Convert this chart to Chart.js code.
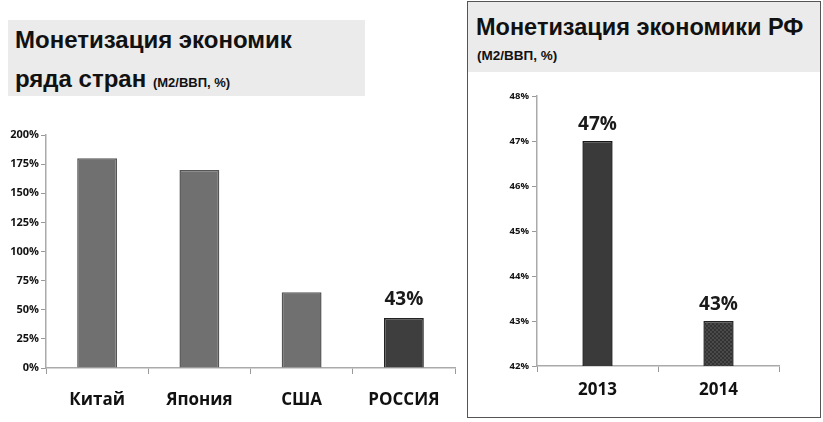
<!DOCTYPE html>
<html>
<head>
<meta charset="utf-8">
<script src="https://cdn.jsdelivr.net/npm/chart.js@4"></script>
<style>
  body { margin: 0; width: 823px; height: 422px; background: #fff; position: relative; overflow: hidden; font-family: "Liberation Sans", Arial, sans-serif; }
  .band { position: absolute; background: #ebebeb; }
  .t1 { position: absolute; font-weight: bold; color: #111; white-space: nowrap; }
  .box { position: absolute; left: 467px; top: 1px; width: 354px; height: 417px; border: 1px solid #555; box-sizing: border-box; }
  canvas { position: absolute; }
</style>
</head>
<body>
<div class="band" style="left:8px;top:20px;width:357px;height:76px;"></div>
<div class="t1" style="left:15px;top:26px;font-size:24px;">Монетизация экономик</div>
<div class="t1" style="left:15px;top:65px;font-size:24px;">ряда стран <span style="font-size:13px;">(M2/ВВП, %)</span></div>

<div class="box"></div>
<div class="band" style="left:468px;top:2px;width:352px;height:70px;"></div>
<div class="t1" style="left:476px;top:14px;font-size:23.5px;">Монетизация экономики РФ</div>
<div class="t1" style="left:477px;top:48px;font-size:13.5px;">(M2/ВВП, %)</div>

<div style="position:absolute;left:0;top:110px;width:462px;height:312px;"><canvas id="left"></canvas></div>
<div style="position:absolute;left:468px;top:75px;width:352px;height:343px;"><canvas id="right"></canvas></div>

<script>
// Left chart: countries
const countries = ['Китай', 'Япония', 'США', 'РОССИЯ'];
const countryValues = [180, 170, 65, 43];
const countryLabels = ['', '', '', '43%'];
const leftTicks = [0, 25, 50, 75, 100, 125, 150, 175, 200];

// Right chart: Russia by year
const years = ['2013', '2014'];
const yearValues = [47, 43];
const yearLabels = ['47%', '43%'];

const tickFont = "'Open Sans', sans-serif";

function makePattern() {
    const c = document.createElement('canvas');
    c.width = 4; c.height = 4;
    const g = c.getContext('2d');
    g.fillStyle = '#4a4a4a';
    g.fillRect(0, 0, 4, 4);
    g.fillStyle = '#333';
    g.fillRect(0, 0, 2, 2);
    g.fillRect(2, 2, 2, 2);
    return g.createPattern(c, 'repeat');
}

// labels above bars
const valueLabels = {
    id: 'valueLabels',
    afterDatasetsDraw(chart, args, opts) {
        const ctx = chart.ctx;
        const meta = chart.getDatasetMeta(0);
        ctx.save();
        ctx.font = 'bold ' + opts.size + 'px ' + tickFont;
        ctx.fillStyle = '#1a1a1a';
        ctx.textAlign = 'center';
        ctx.textBaseline = 'middle';
        meta.data.forEach((bar, i) => {
            const t = opts.labels[i];
            if (t) ctx.fillText(t, bar.x, bar.y - opts.gap);
        });
        ctx.restore();
    }
};

new Chart(document.getElementById('left'), {
    type: 'bar',
    data: {
        labels: countries,
        datasets: [{
            data: countryValues,
            backgroundColor: ['#707070', '#707070', '#707070', '#3e3e3e'],
            borderColor: ['#555', '#555', '#555', '#222'],
            borderWidth: 1.5,
            barPercentage: 0.39,
            categoryPercentage: 1
        }]
    },
    options: {
        responsive: true,
        maintainAspectRatio: false,
        animation: false,
        layout: { padding: { top: 25, right: 7, left: 0, bottom: 0 } },
        plugins: {
            legend: { display: false },
            tooltip: { enabled: false },
            valueLabels: { labels: countryLabels, size: 19, gap: 18 }
        },
        scales: {
            x: {
                grid: { offset: true, drawOnChartArea: false, tickLength: 6, color: '#999' },
                border: { color: '#aaa', width: 1.5 },
                ticks: { color: '#111', font: { family: tickFont, size: 17, weight: 'bold' }, padding: 16 },
                afterFit: s => { s.height = 54; }
            },
            y: {
                min: 0, max: 200,
                afterBuildTicks: s => { s.ticks = leftTicks.map(v => ({ value: v })); },
                grid: { drawOnChartArea: false, tickLength: 5, color: '#999' },
                border: { color: '#aaa', width: 1.5 },
                ticks: { color: '#111', font: { family: tickFont, size: 11, weight: 'bold' }, padding: 2, callback: v => v + '%' },
                afterFit: s => { s.width = 46; }
            }
        }
    },
    plugins: [valueLabels]
});

new Chart(document.getElementById('right'), {
    type: 'bar',
    data: {
        labels: years,
        datasets: [{
            data: yearValues,
            backgroundColor: ['#3a3a3a', makePattern()],
            borderColor: ['#151515', '#222'],
            borderWidth: 1.5,
            barPercentage: 0.25,
            categoryPercentage: 1
        }]
    },
    options: {
        responsive: true,
        maintainAspectRatio: false,
        animation: false,
        layout: { padding: { top: 21, right: 41, left: 0, bottom: 0 } },
        plugins: {
            legend: { display: false },
            tooltip: { enabled: false },
            valueLabels: { labels: yearLabels, size: 19, gap: 16 }
        },
        scales: {
            x: {
                grid: { offset: true, drawOnChartArea: false, tickLength: 6, color: '#999' },
                border: { color: '#aaa', width: 1.5 },
                ticks: { color: '#111', font: { family: tickFont, size: 17, weight: 'bold' }, padding: 8 },
                afterFit: s => { s.height = 52; }
            },
            y: {
                min: 42, max: 48,
                ticks: { stepSize: 1, color: '#111', font: { family: tickFont, size: 9.5, weight: 'bold' }, padding: 3, callback: v => v + '%' },
                grid: { drawOnChartArea: false, tickLength: 5, color: '#999' },
                border: { color: '#aaa', width: 1.5 },
                afterFit: s => { s.width = 69; }
            }
        }
    },
    plugins: [valueLabels]
});
</script>
</body>
</html>
